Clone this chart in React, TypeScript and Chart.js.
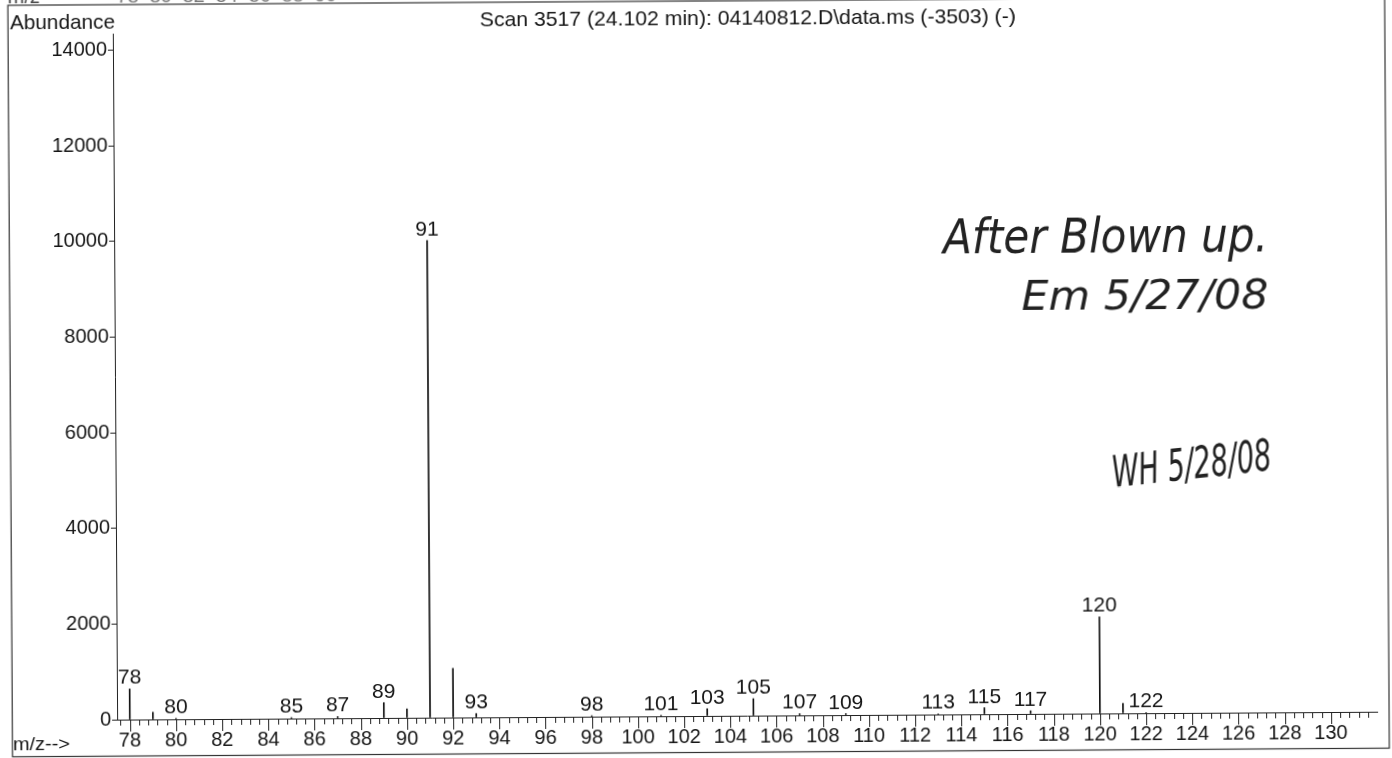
import React, { useEffect, useRef } from "react";
import { Chart, registerables } from "chart.js";

Chart.register(...registerables);

// ---- data ----
const peakMz = [78, 79, 80, 85, 87, 89, 90, 91, 92, 93, 98, 101, 103, 105, 107, 109, 113, 115, 117, 120, 121, 122];
const peakAbundance = [640, 150, 20, 20, 35, 320, 185, 9980, 1030, 80, 20, 20, 150, 355, 35, 30, 15, 135, 65, 2020, 205, 15];
const labeledMz = [78, 80, 85, 87, 89, 91, 93, 98, 101, 103, 105, 107, 109, 113, 115, 117, 120, 122];
const xTickLabels = [78, 80, 82, 84, 86, 88, 90, 92, 94, 96, 98, 100, 102, 104, 106, 108, 110, 112, 114, 116, 118, 120, 122, 124, 126, 128, 130];
const yTickLabels = [0, 2000, 4000, 6000, 8000, 10000, 12000, 14000];
const topStripLabels = ["78", "80", "82", "84", "86", "88", "90"];

const titleText = "Scan 3517 (24.102 min): 04140812.D\\data.ms (-3503) (-)";
const yAxisTitle = "Abundance";
const xAxisTitle = "m/z-->";
const note1 = "After Blown up.";
const note2 = "Em 5/27/08";
const note3 = "WH 5/28/08";

const X_MIN = 77.45;
const X_MAX = 132;
const Y_MAX = 14350;
const MINOR_STEP = 0.4;

const FONT = '"Liberation Sans", Arial, Helvetica, sans-serif';
const INK = "#151515";

const minorTicks: number[] = [];
for (let i = Math.ceil(X_MIN / MINOR_STEP); i * MINOR_STEP <= 131.7; i++) {
  minorTicks.push(Number((i * MINOR_STEP).toFixed(1)));
}

const spectrumPlugin = {
  id: "spectrumDecor",
  afterDatasetsDraw(chart: any) {
    const { ctx, scales } = chart;
    const x = scales.x;
    const y = scales.y;
    ctx.save();
    // x-axis ticks hanging below the axis line
    ctx.strokeStyle = "#222";
    ctx.lineWidth = 1;
    const base = y.getPixelForValue(0);
    x.ticks.forEach((t: any) => {
      const px = Math.round(x.getPixelForValue(t.value)) + 0.5;
      const major = xTickLabels.includes(t.value);
      ctx.beginPath();
      ctx.moveTo(px, base);
      ctx.lineTo(px, base + (major ? 12 : 6));
      ctx.stroke();
    });
    // peak labels
    ctx.fillStyle = INK;
    ctx.font = `21px ${FONT}`;
    ctx.textAlign = "center";
    ctx.textBaseline = "alphabetic";
    labeledMz.forEach((mz) => {
      const i = peakMz.indexOf(mz);
      const v = i >= 0 ? peakAbundance[i] : 0;
      ctx.fillText(String(mz), x.getPixelForValue(mz), y.getPixelForValue(v) - 5);
    });
    ctx.restore();
  },
};

export default function App() {
  const canvasRef = useRef<HTMLCanvasElement | null>(null);

  useEffect(() => {
    const canvas = canvasRef.current;
    if (!canvas) return;
    const chart = new Chart(canvas, {
      type: "bar",
      data: {
        datasets: [
          {
            data: peakMz.map((m, i) => ({ x: m, y: peakAbundance[i] })),
            backgroundColor: "#111",
            borderWidth: 0,
            barThickness: 1,
          } as any,
        ],
      },
      options: {
        animation: false,
        responsive: false,
        devicePixelRatio: 1,
        layout: { padding: { left: 0, right: 17, top: 30, bottom: 0 } },
        plugins: {
          legend: { display: false },
          tooltip: { enabled: false },
          title: { display: false },
        },
        scales: {
          x: {
            type: "linear",
            min: X_MIN,
            max: X_MAX,
            offset: false,
            grid: { display: true, drawOnChartArea: false, drawTicks: false, offset: false },
            border: { display: true, color: "#222", width: 1 },
            afterBuildTicks: (s: any) => {
              s.ticks = minorTicks.map((v) => ({ value: v }));
            },
            afterFit: (s: any) => {
              s.height = 42;
            },
            ticks: {
              autoSkip: false,
              maxRotation: 0,
              minRotation: 0,
              padding: 9,
              color: INK,
              font: { family: FONT, size: 20 },
              callback: (v: any) => (xTickLabels.includes(Number(v)) ? String(v) : ""),
            },
          },
          y: {
            type: "linear",
            min: 0,
            max: Y_MAX,
            grid: { display: true, drawOnChartArea: false, drawTicks: true, tickLength: 5, tickColor: "#222" },
            border: { display: true, color: "#222", width: 1 },
            afterBuildTicks: (s: any) => {
              s.ticks = yTickLabels.map((v) => ({ value: v }));
            },
            afterFit: (s: any) => {
              s.width = 115;
            },
            ticks: {
              padding: 1,
              color: INK,
              font: { family: FONT, size: 20 },
              callback: (v: any) => String(v),
            },
          },
        },
      } as any,
      plugins: [spectrumPlugin],
    });
    return () => chart.destroy();
  }, []);

  const hand = '"DejaVu Sans", sans-serif';

  return (
    <div
      style={{
        position: "absolute",
        left: 0,
        top: 0,
        width: 1392,
        height: 758,
        transform: "rotate(-0.36deg)",
        transformOrigin: "696px 379px",
      }}
    >
      <canvas
        ref={canvasRef}
        width={1392}
        height={758}
        style={{ position: "absolute", left: 0, top: 0, display: "block" }}
      />
      <svg
        width={1392}
        height={758}
        style={{ position: "absolute", left: 0, top: 0, overflow: "visible", pointerEvents: "none" }}
      >
        <rect x={10.2} y={1} width={1376.8} height={751.5} fill="none" stroke="#333" strokeWidth={1.2} />
        <text x={10} y={-1.5} fontFamily={FONT} fontSize={20} fill="#444">m/z</text>
        {topStripLabels.map((t, i) => (
          <text key={t} x={119 + i * 33} y={-1.5} fontFamily={FONT} fontSize={20} fill="#777">
            {t}
          </text>
        ))}
        <text x={12.2} y={25} fontFamily={FONT} fontSize={21} fill={INK} textLength={105} lengthAdjust="spacingAndGlyphs">
          {yAxisTitle}
        </text>
        <text x={482} y={25} fontFamily={FONT} fontSize={21} fill={INK} textLength={536} lengthAdjust="spacingAndGlyphs">
          {titleText}
        </text>
        <text x={10.7} y={746} fontFamily={FONT} fontSize={19} fill={INK} textLength={57} lengthAdjust="spacingAndGlyphs">
          {xAxisTitle}
        </text>
        <text
          x={944}
          y={255}
          fontFamily={hand}
          fontWeight={200}
          fontStyle="italic"
          fontSize={48}
          fill="#222"
          textLength={325}
          lengthAdjust="spacingAndGlyphs"
        >
          {note1}
        </text>
        <text
          x={1022}
          y={312}
          fontFamily={hand}
          fontWeight={200}
          fontStyle="italic"
          fontSize={40}
          fill="#222"
          textLength={247}
          lengthAdjust="spacingAndGlyphs"
        >
          {note2}
        </text>
        <text
          x={1113}
          y={490}
          fontFamily={hand}
          fontWeight={200}
          fontStyle="italic"
          fontSize={44}
          fill="#222"
          textLength={160}
          lengthAdjust="spacingAndGlyphs"
          transform="rotate(-6 1113 490)"
        >
          {note3}
        </text>
      </svg>
    </div>
  );
}
